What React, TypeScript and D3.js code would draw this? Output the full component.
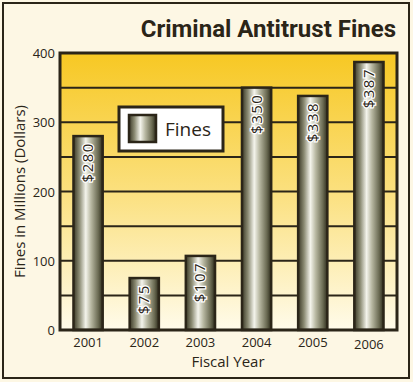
import React from "react";
import * as d3 from "d3";

const years = ["2001", "2002", "2003", "2004", "2005", "2006"];
const fines = [280, 75, 107, 350, 338, 387];
const valueLabels = ["$280", "$75", "$107", "$350", "$338", "$387"];
const yTicks = [0, 100, 200, 300, 400];
const gridValues = [50, 100, 150, 200, 250, 300, 350];

export default function App() {
  const W = 413, H = 382;
  const left = 60, right = 397, top = 53, bottom = 330;
  const x = d3.scaleBand<string>().domain(years).range([left, right]).paddingInner(0.48).paddingOuter(0.24);
  const y = d3.scaleLinear().domain([0, 400]).range([bottom, top]);
  const dark = "#2b2518";
  const font = "'Open Sans', 'Noto Sans', sans-serif";
  return (
    <svg width={W} height={H} style={{ position: "absolute", left: 0, top: 0 }}>
      <defs>
        <linearGradient id="bg" x1="0" y1="0" x2="0" y2="1">
          <stop offset="0" stopColor="#f7c823" />
          <stop offset="0.5" stopColor="#fbe07e" />
          <stop offset="1" stopColor="#fffbea" />
        </linearGradient>
        <linearGradient id="bar" x1="0" y1="0" x2="1" y2="0">
          <stop offset="0" stopColor="#3a3826" />
          <stop offset="0.2" stopColor="#8a8a72" />
          <stop offset="0.42" stopColor="#f4f4ec" />
          <stop offset="0.6" stopColor="#b8b8a2" />
          <stop offset="0.85" stopColor="#6a6a52" />
          <stop offset="1" stopColor="#2e2c1c" />
        </linearGradient>
      </defs>
      <rect x={0} y={0} width={W} height={H} fill="#fdf7e4" />
      <rect x={3} y={3} width={406} height={375} fill="#fdf7e4" stroke={dark} strokeWidth={2} />
      <text x={396} y={37} textAnchor="end" fontFamily="'Liberation Sans Narrow', 'Roboto', sans-serif" fontWeight="bold" fontSize={24} fill={dark}>
        Criminal Antitrust Fines
      </text>
      <rect x={left} y={top} width={right - left} height={bottom - top} fill="url(#bg)" />
      {gridValues.map((g) => (
        <line key={g} x1={left} x2={right} y1={y(g)} y2={y(g)} stroke={dark} strokeWidth={2} />
      ))}
      {yTicks.map((t) => (
        <text key={t} x={55} y={y(t) + 5} textAnchor="end" fontFamily={font} fontSize={13} fill={dark}>
          {t}
        </text>
      ))}
      <g>
        <rect x={119} y={107} width={104} height={44} fill="#ffffff" stroke={dark} strokeWidth={3} />
        <rect x={129} y={115} width={27} height={27} fill="url(#bar)" stroke={dark} strokeWidth={2.5} />
        <text x={165} y={136} fontFamily={font} fontSize={19} fill={dark}>Fines</text>
      </g>
      {years.map((yr, i) => {
        const bx = x(yr)!;
        const bw = x.bandwidth();
        const by = y(fines[i]);
        const cx = bx + bw / 2;
        return (
          <g key={yr}>
            <rect x={bx} y={by} width={bw} height={bottom - by} fill="url(#bar)" stroke={dark} strokeWidth={2.5} />
            <text
              transform={`translate(${cx + 5},${by + 6}) rotate(-90)`}
              textAnchor="end"
              fontFamily={font}
              fontSize={15}
              letterSpacing={1.5}
              fill="#2b2518"
              stroke="#ffffff"
              strokeWidth={2.5}
              paintOrder="stroke"
            >
              {valueLabels[i]}
            </text>
            <text x={cx} y={yr === "2006" ? 349 : 347} textAnchor="middle" fontFamily={font} fontSize={13} fill={dark}>
              {yr}
            </text>
          </g>
        );
      })}
      <rect x={left} y={top} width={right - left} height={bottom - top} fill="none" stroke={dark} strokeWidth={3} />
      <text x={228} y={367} textAnchor="middle" fontFamily={font} fontSize={15} fill={dark}>Fiscal Year</text>
      <text transform={`translate(25,${(top + bottom) / 2}) rotate(-90)`} textAnchor="middle" fontFamily={font} fontSize={15} fill={dark}>
        Fines in Millions (Dollars)
      </text>
    </svg>
  );
}
